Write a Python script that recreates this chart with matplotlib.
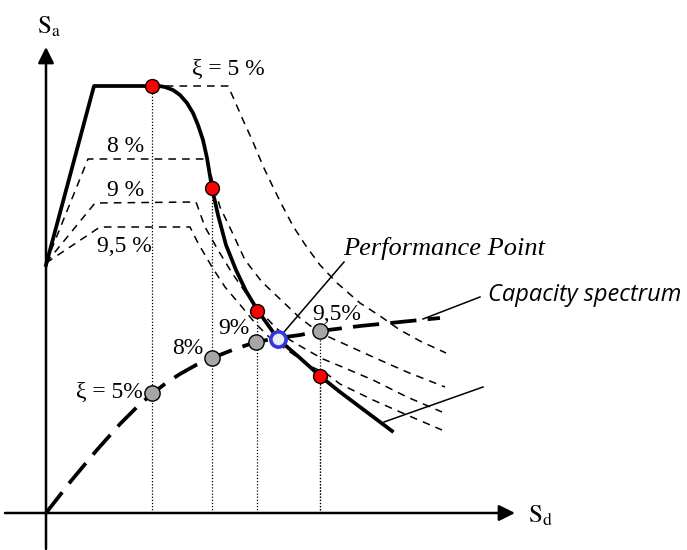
import numpy as np
import matplotlib
matplotlib.use('Agg')
from matplotlib import pyplot as plt

# Schematic coordinates: Sd to the right, Sa upwards, origin at the axis crossing
# demand spectrum (thick line)
demand_sd = [0, 48, 106, 113, 119, 127, 134, 141, 147, 152, 157, 161, 166, 172, 180, 190, 200, 212, 232, 254, 274, 294, 346]
demand_sa = [248, 427, 427, 427, 426, 423, 418, 410, 400, 388, 373, 355, 325, 298, 268, 243, 222, 202, 174, 155, 137, 121, 82]

# reduced spectra for several damping ratios (thin dashed)
d5_sd = [106, 182, 187, 197, 207, 217, 227, 237, 247, 260, 274, 291, 314, 334, 354, 374, 400]
d5_sa = [427, 427, 416, 393, 371, 347, 326, 306, 287, 267, 248, 230, 210, 197, 183, 172, 160]
d8_sd = [0, 42, 161, 167, 174, 186, 199, 216, 234, 254, 274, 294, 327, 361, 399]
d8_sa = [250, 354, 354, 330, 306, 281, 253, 231, 214, 195, 180, 171, 156, 141, 126]
d9_sd = [0, 49, 150, 159, 172, 186, 202, 216, 229, 244, 261, 277, 294, 327, 361, 396]
d9_sa = [250, 310, 311, 286, 263, 240, 217, 200, 186, 173, 163, 154, 147, 133, 116, 101]
d95_sd = [0, 54, 144, 152, 166, 179, 196, 209, 224, 244, 264, 281, 294, 327, 361, 396]
d95_sa = [250, 286, 286, 270, 246, 226, 206, 190, 175, 161, 147, 139, 129, 113, 98, 83]

# capacity spectrum
cap_sd = [0, 25, 50, 74, 94, 106, 120, 134, 150, 166, 189, 210, 232, 254, 274, 314, 354, 394]
cap_sa = [0, 32, 62, 89, 109, 119, 130, 139, 148, 155, 164, 171, 175, 178, 182, 187, 191, 195]

# trial points
red_sd = [106, 166, 211, 274]
red_sa = [427, 325, 202, 137]
grey_sd = [106, 166, 210, 274]
grey_sa = [120, 155, 171, 182]
grey_labels = ['ξ = 5%', '8%', '9%', '9,5%']
pp_sd, pp_sa = 232, 174

serif = 'Liberation Serif'

fig = plt.figure(figsize=(6.87, 5.5), dpi=100)
ax = fig.add_axes([0, 0, 1, 1])
ax.set_xlim(-46, 641)
ax.set_ylim(-37, 513)
ax.axis('off')

# axes with arrows
ax.annotate('', xy=(0, 466), xytext=(0, -36),
            arrowprops=dict(arrowstyle='-|>', lw=1.8, color='k', mutation_scale=24, shrinkA=0, shrinkB=0))
ax.annotate('', xy=(469, 0), xytext=(-41, 0),
            arrowprops=dict(arrowstyle='-|>', lw=1.8, color='k', mutation_scale=24, shrinkA=0, shrinkB=0))
plt.rcParams['mathtext.fontset'] = 'stix'
ax.text(3, 486, r'$\mathrm{S}_{\mathrm{a}}$', fontsize=18, ha='center', va='center')
ax.text(494, -3, r'$\mathrm{S}_{\mathrm{d}}$', fontsize=18, ha='center', va='center')

# dotted projections
for x, top in zip(red_sd, red_sa):
    ax.plot([x, x], [0, top], color='k', lw=0.9, ls=(0, (1, 1.5)), zorder=1)
ax.plot([grey_sd[3], grey_sd[3]], [0, grey_sa[3]], color='k', lw=0.9, ls=(0, (1, 1.5)), zorder=1)

# reduced spectra
for xs, ys in [(d5_sd, d5_sa), (d8_sd, d8_sa), (d9_sd, d9_sa), (d95_sd, d95_sa)]:
    ax.plot(xs, ys, color='k', lw=1.1, ls=(0, (5, 4)), zorder=2)

ax.plot(demand_sd, demand_sa, color='k', lw=2.7, solid_joinstyle='round', zorder=3)
ax.plot(cap_sd, cap_sa, color='k', lw=2.7, ls=(0, (7, 3)), zorder=3)

# pointer lines
ax.plot([pp_sd, 298], [pp_sa, 251], color='k', lw=1.1, zorder=2)
ax.plot([377, 434], [194, 216], color='k', lw=1.1, zorder=2)
ax.plot([338, 437], [91, 126], color='k', lw=1.1, zorder=2)

ax.plot(red_sd, red_sa, 'o', ms=10, mfc='red', mec='k', mew=1, zorder=5)
ax.plot(grey_sd, grey_sa, 'o', ms=11, mfc='#a6a6a6', mec='k', mew=1, zorder=5)
ax.plot(pp_sd, pp_sa, 'o', ms=11, mfc='#e8ecff', mec='#3535d8', mew=2.6, zorder=6)

# damping labels
fs = 17
ax.text(182, 444, 'ξ = 5 %', fontsize=fs, family=serif, ha='center', va='center')
ax.text(80, 367, '8 %', fontsize=fs, family=serif, ha='center', va='center')
ax.text(80, 323, '9 %', fontsize=fs, family=serif, ha='center', va='center')
ax.text(78, 267, '9,5 %', fontsize=fs, family=serif, ha='center', va='center')
grey_text_pos = [(63, 121), (142, 165), (188, 184), (291, 198)]
for (tx, ty), lab in zip(grey_text_pos, grey_labels):
    ax.text(tx, ty, lab, fontsize=fs, family=serif, ha='center', va='center')

ax.text(297, 264, 'Performance Point', fontsize=19, family=serif, style='italic', ha='left', va='center')
ax.text(442, 218, 'Capacity spectrum', fontsize=17, family='Open Sans', style='italic', ha='left', va='center')

fig.savefig('out.png', dpi=100)
